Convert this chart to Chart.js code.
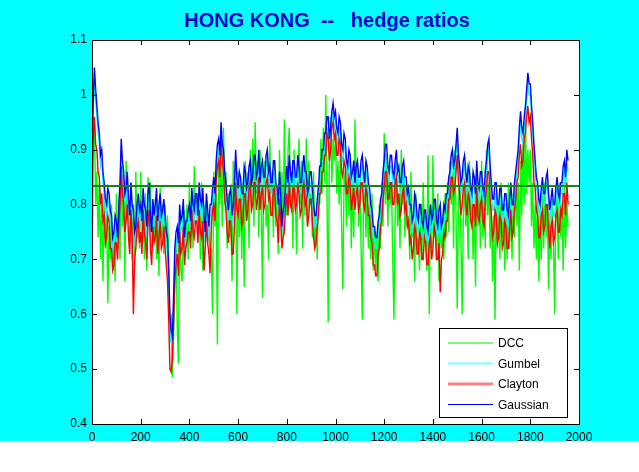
<!DOCTYPE html>
<html><head><meta charset="utf-8">
<script src="https://cdn.jsdelivr.net/npm/chart.js@4/dist/chart.umd.min.js"></script>
<style>html,body{margin:0;padding:0;background:#fff;overflow:hidden}#wrap{width:639px;height:472px;position:relative}</style>
</head><body><div id="wrap"><canvas id="c" width="639" height="472"></canvas></div>
<script>
// observation index step between stored values
const STEP = 5;

const dcc = [
0.64,0.88,0.95,0.80,0.86,0.74,0.84,0.70,0.80,0.66,0.82,0.72,0.78,0.62,0.76,0.70,0.80,0.68,0.74,0.66,
0.82,0.72,0.78,0.70,0.89,0.76,0.84,0.66,0.88,0.78,0.82,0.73,0.84,0.70,0.80,0.69,0.86,0.74,0.80,0.72,
0.86,0.74,0.80,0.70,0.82,0.68,0.85,0.76,0.84,0.72,0.80,0.74,0.81,0.70,0.78,0.67,0.83,0.74,0.80,0.71,
0.80,0.72,0.78,0.70,0.55,0.60,0.485,0.56,0.66,0.74,0.58,0.51,0.76,0.68,0.66,0.74,0.79,0.72,0.80,0.70,
0.84,0.74,0.80,0.72,0.87,0.78,0.82,0.74,0.80,0.70,0.84,0.68,0.80,0.74,0.82,0.73,0.78,0.70,0.72,0.60,
0.86,0.76,0.82,0.545,0.90,0.80,0.88,0.76,0.94,0.80,0.86,0.72,0.82,0.74,0.80,0.66,0.88,0.78,0.84,0.60,
0.86,0.74,0.82,0.70,0.84,0.65,0.88,0.78,0.86,0.72,0.90,0.80,0.92,0.76,0.95,0.82,0.88,0.74,0.90,0.82,
0.63,0.84,0.88,0.76,0.80,0.70,0.92,0.82,0.86,0.74,0.88,0.76,0.82,0.71,0.90,0.80,0.86,0.74,0.955,0.82,
0.78,0.90,0.94,0.80,0.86,0.72,0.90,0.82,0.71,0.84,0.92,0.80,0.88,0.72,0.89,0.78,0.92,0.76,0.88,0.80,
0.82,0.74,0.86,0.72,0.78,0.70,0.84,0.80,0.92,0.82,0.94,0.84,1.00,0.82,0.585,0.90,0.96,0.84,0.92,0.88,
0.92,0.82,0.88,0.80,0.90,0.76,0.645,0.84,0.86,0.76,0.88,0.78,0.86,0.72,0.84,0.74,0.955,0.82,0.88,0.76,
0.84,0.72,0.59,0.80,0.86,0.74,0.84,0.72,0.80,0.70,0.82,0.68,0.76,0.68,0.74,0.66,0.80,0.72,0.84,0.76,
0.93,0.80,0.88,0.76,0.86,0.80,0.84,0.70,0.59,0.78,0.86,0.76,0.82,0.72,0.90,0.80,0.86,0.74,0.84,0.76,
0.78,0.70,0.86,0.74,0.76,0.66,0.82,0.72,0.74,0.68,0.80,0.70,0.84,0.74,0.78,0.68,0.89,0.60,0.80,0.72,
0.89,0.74,0.80,0.70,0.82,0.66,0.78,0.72,0.76,0.70,0.82,0.74,0.84,0.75,0.88,0.80,0.86,0.72,0.90,0.78,
0.61,0.80,0.86,0.74,0.60,0.78,0.84,0.76,0.82,0.70,0.88,0.78,0.82,0.70,0.80,0.65,0.86,0.76,0.84,0.72,
0.88,0.74,0.84,0.72,0.90,0.78,0.84,0.72,0.80,0.66,0.78,0.59,0.82,0.72,0.80,0.70,0.84,0.74,0.80,0.68,
0.78,0.70,0.84,0.72,0.80,0.70,0.82,0.74,0.86,0.76,0.84,0.68,0.88,0.78,0.92,0.80,0.96,0.82,0.90,0.84,
0.90,0.76,0.84,0.72,0.80,0.70,0.82,0.66,0.78,0.70,0.82,0.72,0.84,0.74,0.80,0.645,0.78,0.70,0.80,0.74,
0.60,0.78,0.82,0.70,0.84,0.74,0.80,0.68,0.84,0.72,0.80,0.76
];

const gumbel = [
0.86,0.97,1.03,0.99,0.96,0.93,0.91,0.87,0.88,0.84,0.82,0.79,0.78,0.81,0.80,0.77,0.76,0.72,0.73,0.76,
0.75,0.72,0.79,0.82,0.90,0.86,0.84,0.80,0.81,0.84,0.79,0.76,0.82,0.78,0.77,0.73,0.74,0.78,0.80,0.77,
0.78,0.75,0.81,0.78,0.77,0.74,0.80,0.82,0.76,0.73,0.79,0.76,0.78,0.81,0.75,0.78,0.80,0.76,0.77,0.79,
0.76,0.73,0.71,0.65,0.57,0.55,0.54,0.61,0.70,0.73,0.74,0.71,0.78,0.75,0.76,0.79,0.72,0.75,0.75,0.77,
0.78,0.75,0.81,0.78,0.77,0.80,0.80,0.76,0.82,0.79,0.78,0.81,0.76,0.73,0.80,0.77,0.74,0.78,0.78,0.81,
0.83,0.80,0.86,0.89,0.90,0.87,0.94,0.89,0.88,0.84,0.82,0.79,0.77,0.80,0.81,0.76,0.78,0.82,0.88,0.83,
0.81,0.84,0.83,0.80,0.80,0.85,0.84,0.81,0.82,0.85,0.86,0.82,0.83,0.87,0.87,0.83,0.84,0.88,0.82,0.85,
0.86,0.83,0.83,0.87,0.88,0.84,0.85,0.82,0.82,0.86,0.86,0.82,0.81,0.78,0.84,0.80,0.75,0.77,0.78,0.82,
0.85,0.82,0.87,0.84,0.82,0.86,0.86,0.83,0.83,0.87,0.85,0.82,0.82,0.85,0.87,0.84,0.84,0.80,0.81,0.84,
0.84,0.81,0.78,0.76,0.76,0.79,0.81,0.85,0.85,0.88,0.88,0.91,0.91,0.94,0.94,0.90,0.92,0.95,0.97,0.94,
0.95,0.92,0.91,0.94,0.93,0.89,0.88,0.91,0.90,0.86,0.85,0.88,0.87,0.83,0.84,0.86,0.82,0.85,0.86,0.83,
0.83,0.86,0.87,0.84,0.82,0.86,0.85,0.82,0.81,0.78,0.77,0.74,0.74,0.72,0.72,0.75,0.76,0.79,0.80,0.84,
0.86,0.89,0.89,0.85,0.84,0.87,0.87,0.84,0.83,0.86,0.88,0.84,0.85,0.82,0.82,0.85,0.86,0.83,0.83,0.80,
0.81,0.78,0.78,0.75,0.76,0.80,0.79,0.76,0.75,0.78,0.78,0.75,0.74,0.77,0.77,0.74,0.73,0.76,0.78,0.75,
0.76,0.79,0.79,0.75,0.74,0.77,0.78,0.74,0.75,0.78,0.77,0.80,0.80,0.83,0.84,0.87,0.88,0.85,0.86,0.89,
0.92,0.87,0.85,0.82,0.83,0.86,0.87,0.84,0.82,0.85,0.84,0.81,0.80,0.84,0.83,0.80,0.86,0.82,0.81,0.84,
0.84,0.81,0.80,0.84,0.86,0.89,0.90,0.85,0.82,0.79,0.79,0.82,0.82,0.78,0.78,0.81,0.81,0.77,0.77,0.80,
0.80,0.77,0.76,0.79,0.82,0.78,0.78,0.82,0.84,0.86,0.88,0.92,0.95,0.92,0.91,0.94,0.96,0.99,1.02,1.00,
1.00,0.96,0.93,0.89,0.86,0.83,0.82,0.79,0.78,0.81,0.83,0.80,0.80,0.83,0.84,0.80,0.77,0.79,0.81,0.78,
0.78,0.81,0.83,0.80,0.79,0.82,0.82,0.85,0.86,0.83,0.88,0.86
];

const clayton = [
0.84,0.92,0.96,0.91,0.90,0.86,0.85,0.80,0.82,0.77,0.78,0.73,0.74,0.78,0.77,0.72,0.72,0.68,0.69,0.73,
0.73,0.70,0.76,0.80,0.87,0.82,0.80,0.75,0.77,0.80,0.74,0.71,0.79,0.74,0.60,0.70,0.72,0.76,0.77,0.73,
0.75,0.71,0.79,0.75,0.73,0.70,0.77,0.79,0.72,0.69,0.76,0.73,0.74,0.78,0.71,0.74,0.77,0.72,0.73,0.76,
0.72,0.69,0.66,0.59,0.50,0.495,0.52,0.58,0.66,0.69,0.71,0.67,0.75,0.71,0.72,0.76,0.69,0.72,0.73,0.75,
0.75,0.72,0.79,0.75,0.74,0.77,0.77,0.73,0.79,0.75,0.74,0.77,0.68,0.72,0.77,0.73,0.71,0.675,0.76,0.79,
0.80,0.77,0.84,0.87,0.88,0.85,0.92,0.88,0.86,0.81,0.79,0.75,0.73,0.77,0.77,0.71,0.71,0.76,0.84,0.79,
0.78,0.81,0.81,0.76,0.77,0.82,0.82,0.77,0.79,0.83,0.84,0.79,0.80,0.84,0.84,0.79,0.81,0.85,0.79,0.82,
0.83,0.79,0.80,0.84,0.85,0.81,0.82,0.78,0.78,0.83,0.83,0.78,0.77,0.73,0.81,0.77,0.72,0.74,0.75,0.80,
0.82,0.78,0.84,0.80,0.79,0.83,0.83,0.79,0.80,0.84,0.82,0.78,0.79,0.83,0.84,0.80,0.81,0.76,0.78,0.81,
0.81,0.77,0.74,0.72,0.73,0.76,0.78,0.82,0.82,0.86,0.86,0.89,0.89,0.93,0.92,0.88,0.90,0.94,0.95,0.92,
0.93,0.89,0.89,0.92,0.91,0.86,0.85,0.88,0.87,0.82,0.82,0.85,0.84,0.79,0.81,0.83,0.79,0.82,0.83,0.79,
0.80,0.84,0.84,0.80,0.79,0.83,0.82,0.78,0.78,0.74,0.73,0.69,0.69,0.67,0.67,0.71,0.72,0.76,0.77,0.81,
0.83,0.86,0.86,0.81,0.81,0.84,0.84,0.80,0.80,0.84,0.85,0.80,0.82,0.78,0.79,0.82,0.83,0.79,0.80,0.76,
0.77,0.73,0.74,0.70,0.72,0.76,0.75,0.71,0.71,0.75,0.74,0.70,0.70,0.74,0.73,0.69,0.69,0.73,0.74,0.70,
0.72,0.76,0.75,0.70,0.70,0.73,0.64,0.70,0.71,0.75,0.74,0.77,0.77,0.81,0.81,0.85,0.85,0.82,0.83,0.86,
0.89,0.84,0.82,0.78,0.80,0.83,0.84,0.80,0.78,0.82,0.81,0.77,0.76,0.80,0.80,0.76,0.83,0.78,0.77,0.80,
0.81,0.77,0.76,0.81,0.83,0.86,0.86,0.81,0.78,0.74,0.75,0.79,0.78,0.73,0.74,0.78,0.77,0.72,0.73,0.77,
0.76,0.72,0.72,0.76,0.79,0.74,0.75,0.79,0.81,0.84,0.85,0.89,0.91,0.87,0.88,0.92,0.93,0.96,0.98,0.95,
0.96,0.92,0.89,0.84,0.83,0.79,0.78,0.74,0.74,0.78,0.79,0.75,0.76,0.80,0.80,0.75,0.72,0.76,0.77,0.73,
0.74,0.78,0.79,0.75,0.75,0.79,0.78,0.82,0.82,0.78,0.84,0.80
];

const gaussian = [
0.87,0.99,1.05,1.01,0.98,0.95,0.93,0.89,0.90,0.86,0.84,0.81,0.80,0.83,0.82,0.79,0.78,0.74,0.75,0.78,
0.77,0.74,0.80,0.84,0.92,0.88,0.86,0.82,0.83,0.86,0.81,0.78,0.84,0.80,0.79,0.75,0.76,0.80,0.82,0.79,
0.80,0.77,0.83,0.80,0.79,0.76,0.82,0.84,0.78,0.75,0.81,0.78,0.80,0.83,0.77,0.80,0.82,0.78,0.79,0.81,
0.78,0.75,0.74,0.68,0.60,0.57,0.56,0.63,0.72,0.75,0.76,0.73,0.80,0.77,0.78,0.81,0.74,0.77,0.77,0.79,
0.80,0.77,0.83,0.80,0.79,0.82,0.82,0.78,0.84,0.81,0.80,0.83,0.78,0.75,0.82,0.79,0.76,0.80,0.80,0.83,
0.85,0.82,0.88,0.91,0.92,0.89,0.95,0.91,0.90,0.86,0.84,0.81,0.79,0.82,0.83,0.78,0.80,0.84,0.90,0.85,
0.83,0.86,0.85,0.82,0.82,0.87,0.86,0.83,0.84,0.87,0.88,0.84,0.85,0.89,0.89,0.85,0.86,0.90,0.84,0.87,
0.88,0.85,0.85,0.89,0.90,0.86,0.87,0.84,0.84,0.88,0.88,0.84,0.83,0.80,0.86,0.82,0.76,0.79,0.80,0.84,
0.87,0.84,0.89,0.86,0.84,0.88,0.88,0.85,0.85,0.89,0.87,0.84,0.84,0.87,0.89,0.86,0.86,0.82,0.83,0.86,
0.86,0.83,0.80,0.78,0.78,0.81,0.83,0.87,0.87,0.90,0.90,0.93,0.93,0.96,0.96,0.92,0.94,0.97,0.985,0.96,
0.97,0.94,0.93,0.96,0.95,0.91,0.90,0.93,0.92,0.88,0.87,0.90,0.89,0.85,0.86,0.88,0.84,0.87,0.88,0.85,
0.85,0.88,0.89,0.86,0.84,0.88,0.87,0.84,0.83,0.80,0.79,0.76,0.76,0.74,0.74,0.77,0.78,0.81,0.82,0.86,
0.88,0.91,0.91,0.87,0.86,0.89,0.89,0.86,0.85,0.88,0.90,0.86,0.87,0.84,0.84,0.87,0.88,0.85,0.85,0.82,
0.83,0.80,0.80,0.77,0.78,0.82,0.81,0.78,0.77,0.80,0.80,0.77,0.76,0.79,0.79,0.76,0.75,0.78,0.80,0.77,
0.78,0.81,0.81,0.77,0.76,0.79,0.80,0.76,0.77,0.80,0.79,0.82,0.82,0.85,0.86,0.89,0.90,0.87,0.88,0.91,
0.94,0.89,0.87,0.84,0.85,0.88,0.89,0.86,0.84,0.87,0.86,0.83,0.82,0.86,0.85,0.82,0.88,0.84,0.83,0.86,
0.86,0.83,0.82,0.86,0.88,0.91,0.92,0.87,0.84,0.81,0.81,0.84,0.84,0.80,0.80,0.83,0.83,0.79,0.79,0.82,
0.82,0.79,0.78,0.81,0.84,0.80,0.80,0.84,0.86,0.88,0.90,0.94,0.97,0.94,0.93,0.96,0.98,1.01,1.04,1.02,
1.02,0.98,0.95,0.91,0.88,0.85,0.84,0.81,0.80,0.83,0.85,0.82,0.82,0.85,0.86,0.82,0.79,0.81,0.83,0.80,
0.80,0.83,0.85,0.82,0.81,0.84,0.84,0.87,0.88,0.85,0.90,0.88
];

const meanRatio = 0.834;
const xTicks = [0,200,400,600,800,1000,1200,1400,1600,1800,2000];
const yTicks = [0.4,0.5,0.6,0.7,0.8,0.9,1.0,1.1];
const seriesNames = ['DCC','Gumbel','Clayton','Gaussian'];
const titleText = 'HONG KONG  --   hedge ratios';

const FONT = '"Liberation Sans", Arial, Helvetica, sans-serif';
const toXY = arr => arr.map((v, i) => ({x: i * STEP, y: v}));

const legendStyle = [
  {color:'#00ee00', width:1},
  {color:'#80ffff', width:2},
  {color:'#ff8080', width:3},
  {color:'#0000ff', width:1}
];

const decor = {
  id: 'decor',
  beforeDraw(chart) {
    const ctx = chart.ctx, a = chart.chartArea;
    ctx.save();
    ctx.fillStyle = '#ffffff';
    ctx.fillRect(0, 0, 639, 472);
    ctx.fillStyle = '#00ffff';
    ctx.fillRect(0, 0, 639, 441);
    ctx.fillStyle = '#ffffff';
    ctx.fillRect(a.left, a.top, a.right - a.left, a.bottom - a.top);
    ctx.restore();
  },
  afterDatasetsDraw(chart) {
    const ctx = chart.ctx, a = chart.chartArea;
    const xs = chart.scales.x, ys = chart.scales.y;
    ctx.save();
    ctx.strokeStyle = '#000';
    ctx.lineWidth = 1;
    ctx.strokeRect(Math.round(a.left) + 0.5, Math.round(a.top) + 0.5,
                   Math.round(a.right - a.left), Math.round(a.bottom - a.top));
    ctx.beginPath();
    xTicks.forEach(t => {
      const px = Math.round(xs.getPixelForValue(t)) + 0.5;
      ctx.moveTo(px, a.bottom); ctx.lineTo(px, a.bottom - 5);
      ctx.moveTo(px, a.top); ctx.lineTo(px, a.top + 5);
    });
    yTicks.forEach(t => {
      const py = Math.round(ys.getPixelForValue(t)) + 0.5;
      ctx.moveTo(a.left, py); ctx.lineTo(a.left + 5, py);
      ctx.moveTo(a.right, py); ctx.lineTo(a.right - 5, py);
    });
    ctx.stroke();

    // legend
    const lx = 439.5, ly = 328.5, lw = 128, lh = 89;
    ctx.fillStyle = '#fff';
    ctx.fillRect(lx, ly, lw, lh);
    ctx.strokeStyle = '#000';
    ctx.strokeRect(lx, ly, lw, lh);
    ctx.font = '12px ' + FONT;
    ctx.textBaseline = 'middle';
    ctx.textAlign = 'left';
    const rows = [343, 363.5, 384, 404.5];
    seriesNames.forEach((n, i) => {
      ctx.strokeStyle = legendStyle[i].color;
      ctx.lineWidth = legendStyle[i].width;
      ctx.beginPath();
      ctx.moveTo(448, rows[i]); ctx.lineTo(493, rows[i]);
      ctx.stroke();
      ctx.fillStyle = '#000';
      ctx.fillText(n, 498, rows[i] + 1);
    });

    // title
    ctx.font = 'bold 20px ' + FONT;
    ctx.fillStyle = '#0000cc';
    ctx.textAlign = 'center';
    ctx.textBaseline = 'alphabetic';
    ctx.fillText(titleText, 327, 27);
    ctx.restore();
  }
};

const lineDs = (label, arr, color, order) => ({
  label, data: toXY(arr), borderColor: color, backgroundColor: color,
  borderWidth: 1.4, pointRadius: 0, tension: 0, order, fill: false
});

new Chart(document.getElementById('c'), {
  type: 'line',
  data: {
    datasets: [
      lineDs(seriesNames[0], dcc, '#00ff00', 4),
      lineDs(seriesNames[1], gumbel, '#00ffff', 3),
      lineDs(seriesNames[2], clayton, '#ff0000', 2),
      lineDs(seriesNames[3], gaussian, '#0000ff', 1),
      {label: 'mean', data: [{x: 0, y: meanRatio}, {x: 2000, y: meanRatio}],
       borderColor: '#118811', borderWidth: 2, pointRadius: 0, order: 0}
    ]
  },
  options: {
    responsive: false,
    animation: false,
    events: [],
    layout: {padding: {left: 0, top: 40, right: 60, bottom: 0}},
    plugins: {legend: {display: false}, title: {display: false}, tooltip: {enabled: false}},
    scales: {
      x: {
        type: 'linear', min: 0, max: 2000,
        afterFit: s => { s.height = 48; },
        grid: {display: false, drawTicks: false},
        border: {display: false},
        ticks: {stepSize: 200, padding: 6, color: '#000', maxRotation: 0,
                font: {family: FONT, size: 12}, callback: v => String(v)}
      },
      y: {
        min: 0.4, max: 1.1,
        afterFit: s => { s.width = 92; },
        grid: {display: false, drawTicks: false},
        border: {display: false},
        ticks: {stepSize: 0.1, padding: 5, color: '#000',
                font: {family: FONT, size: 12},
                callback: v => String(Math.round(v * 10) / 10)}
      }
    }
  },
  plugins: [decor]
});
</script>
</body></html>
